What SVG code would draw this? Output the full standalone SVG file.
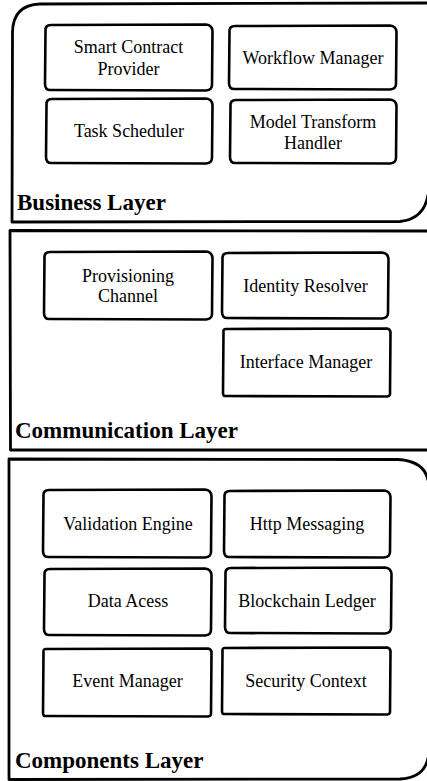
<svg xmlns="http://www.w3.org/2000/svg" width="427" height="781" viewBox="0 0 427 781">
<style>
.box{fill:#fff;stroke:#000;stroke-width:2.6;stroke-linejoin:round;stroke-linecap:round}
.layer{fill:none;stroke:#000;stroke-width:2.8;stroke-linejoin:round;stroke-linecap:round}
.lbl{font-size:18px;fill:#000;text-anchor:middle}
.ttl{font-size:23px;font-weight:bold;fill:#000}
</style>
<rect width="427" height="781" fill="#fff"/>
<g font-family="Liberation Serif, Times New Roman, DejaVu Serif, serif">
<g id="business-layer">
<path class="layer" d="M428 3 L40 4 Q13 5 12.5 32 L12 222 L400 221.5 Q424 219 428 195"/>
<text class="ttl" x="17" y="210">Business Layer</text>
</g>
<g id="communication-layer">
<path class="layer" d="M428 231 L10 230.5 L10.5 450 L428 450"/>
<text class="ttl" x="15" y="438">Communication Layer</text>
</g>
<g id="components-layer">
<path class="layer" d="M428 480 Q424 461 398 459.5 L9 459 L9 779.5 L400 779 Q424 778 428 758"/>
<text class="ttl" x="15" y="768">Components Layer</text>
</g>
<g id="smart-contract-provider">
<path class="box" d="M51 25 L206 24.5 Q212 25 212.5 31 L212 84 Q212.5 90 206 90.5 L51 90 Q45 90.5 45 84 L45.5 31 Q45 25 51 25Z"/>
<text class="lbl" x="128.5" y="53">Smart Contract</text>
<text class="lbl" x="128.5" y="75">Provider</text>
</g>
<g id="workflow-manager">
<path class="box" d="M235 26 L390 25.5 Q396 26 396.5 32 L396 83 Q396.5 89 390 89.5 L235 89 Q229 89.5 229 83 L229.5 32 Q229 26 235 26Z"/>
<text class="lbl" x="313" y="64">Workflow Manager</text>
</g>
<g id="task-scheduler">
<path class="box" d="M52 99 L206 98.5 Q212 99 212.5 105 L212 157 Q212.5 163 206 163.5 L52 163 Q46 163.5 46 157 L46.5 105 Q46 99 52 99Z"/>
<text class="lbl" x="129" y="137">Task Scheduler</text>
</g>
<g id="model-transform-handler">
<path class="box" d="M236 100 L390 99.5 Q396 100 396.5 106 L396 157 Q396.5 163 390 163.5 L236 163 Q230 163.5 230 157 L230.5 106 Q230 100 236 100Z"/>
<text class="lbl" x="313" y="128">Model Transform</text>
<text class="lbl" x="313" y="149">Handler</text>
</g>
<g id="provisioning-channel">
<path class="box" d="M50 252 L206 251.5 Q212 252 212.5 258 L212 313 Q212.5 319 206 319.5 L50 319 Q44 319.5 44 313 L44.5 258 Q44 252 50 252Z"/>
<text class="lbl" x="128" y="282">Provisioning</text>
<text class="lbl" x="128" y="302">Channel</text>
</g>
<g id="identity-resolver">
<path class="box" d="M228 253 L382 252.5 Q388 253 388.5 259 L388 312 Q388.5 318 382 318.5 L228 318 Q222 318.5 222 312 L222.5 259 Q222 253 228 253Z"/>
<text class="lbl" x="305.5" y="292">Identity Resolver</text>
</g>
<g id="interface-manager">
<path class="box" d="M226 329 L387 328.5 Q390 329 390.5 332 L390 393 Q390.5 396 387 396.5 L226 396 Q223 396.5 223 393 L223.5 332 Q223 329 226 329Z"/>
<text class="lbl" x="306" y="368">Interface Manager</text>
</g>
<g id="validation-engine">
<path class="box" d="M49 490 L205 489.5 Q211 490 211.5 496 L211 551 Q211.5 557 205 557.5 L49 557 Q43 557.5 43 551 L43.5 496 Q43 490 49 490Z"/>
<text class="lbl" x="128" y="530">Validation Engine</text>
</g>
<g id="http-messaging">
<path class="box" d="M230 491 L384 490.5 Q390 491 390.5 497 L390 551 Q390.5 557 384 557.5 L230 557 Q224 557.5 224 551 L224.5 497 Q224 491 230 491Z"/>
<text class="lbl" x="307" y="530">Http Messaging</text>
</g>
<g id="data-access">
<path class="box" d="M50 569 L205 568.5 Q211 569 211.5 575 L211 629 Q211.5 635 205 635.5 L50 635 Q44 635.5 44 629 L44.5 575 Q44 569 50 569Z"/>
<text class="lbl" x="128" y="607">Data Acess</text>
</g>
<g id="blockchain-ledger">
<path class="box" d="M231 568 L385 567.5 Q391 568 391.5 574 L391 627 Q391.5 633 385 633.5 L231 633 Q225 633.5 225 627 L225.5 574 Q225 568 231 568Z"/>
<text class="lbl" x="307" y="607">Blockchain Ledger</text>
</g>
<g id="event-manager">
<path class="box" d="M46 649 L208 648.5 Q211 649 211.5 652 L211 713 Q211.5 716 208 716.5 L46 716 Q43 716.5 43 713 L43.5 652 Q43 649 46 649Z"/>
<text class="lbl" x="127.5" y="687">Event Manager</text>
</g>
<g id="security-context">
<path class="box" d="M225 648 L387 647.5 Q390 648 390.5 651 L390 711 Q390.5 714 387 714.5 L225 714 Q222 714.5 222 711 L222.5 651 Q222 648 225 648Z"/>
<text class="lbl" x="306" y="687">Security Context</text>
</g>
</g>
<g id="connectors"></g>
</svg>
